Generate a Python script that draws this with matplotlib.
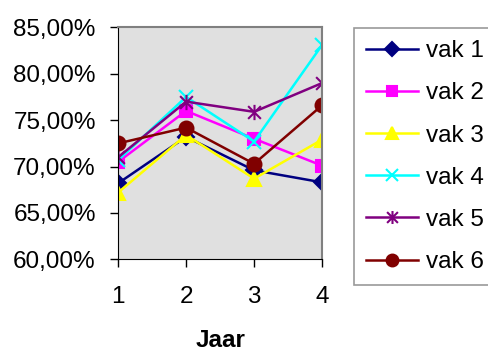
import matplotlib.pyplot as plt
from matplotlib.path import Path
from matplotlib.ticker import FuncFormatter

plt.rcParams['font.family'] = ['Liberation Sans', 'DejaVu Sans']

jaar = [1, 2, 3, 4]
vak1 = [68.2, 73.2, 69.6, 68.3]
vak2 = [70.5, 76.0, 73.0, 70.1]
vak3 = [67.2, 73.4, 68.7, 72.9]
vak4 = [70.7, 77.5, 72.7, 83.1]
vak5 = [71.0, 77.0, 75.9, 79.0]
vak6 = [72.5, 74.2, 70.3, 76.6]

# star marker: an X with a vertical bar through it
star = Path([(-1, -1), (1, 1), (-1, 1), (1, -1), (0, -1.2), (0, 1.2)],
            [Path.MOVETO, Path.LINETO, Path.MOVETO, Path.LINETO, Path.MOVETO, Path.LINETO])

series = [
    ('vak 1', vak1, '#000080', 'D', 8),
    ('vak 2', vak2, '#FF00FF', 's', 9),
    ('vak 3', vak3, '#FFFF00', '^', 10),
    ('vak 4', vak4, '#00FFFF', 'x', 10),
    ('vak 5', vak5, '#800080', star, 11),
    ('vak 6', vak6, '#800000', 'o', 10),
]

fs = 17.5

fig = plt.figure(figsize=(4.88, 3.51), dpi=100)
ax = fig.add_axes([0.242, 0.261, 0.418, 0.661])
ax.set_facecolor('#E0E0E0')

for name, vals, col, mk, ms in series:
    ax.plot(jaar, vals, color=col, marker=mk, markersize=ms, linewidth=1.8,
            markeredgewidth=1.5, label=name)

ax.set_xlim(1, 4)
ax.set_ylim(60, 85)
ax.set_xticks(jaar)
ax.set_yticks([60, 65, 70, 75, 80, 85])
ax.yaxis.set_major_formatter(FuncFormatter(lambda v, p: f'{v:.2f}'.replace('.', ',') + '%'))
ax.tick_params(labelsize=fs, length=6, width=1, direction='out')
ax.tick_params(axis='y', pad=10)
ax.tick_params(axis='x', pad=13)
ax.set_xlabel('Jaar', fontsize=fs, fontweight='bold', labelpad=15)

for s in ['left', 'bottom']:
    ax.spines[s].set_color('black')
for s in ['top', 'right']:
    ax.spines[s].set_color('#808080')
    ax.spines[s].set_linewidth(1.5)

leg = fig.legend(loc='upper left', bbox_to_anchor=(0.725, 0.92), borderaxespad=0,
                 fontsize=fs, frameon=True, fancybox=False, edgecolor='#808080',
                 handlelength=2.15, labelspacing=0.83, borderpad=0.5, handletextpad=0.3,
                 markerscale=0.85)
leg.get_frame().set_linewidth(1.2)

fig.savefig('out.png', dpi=100)
